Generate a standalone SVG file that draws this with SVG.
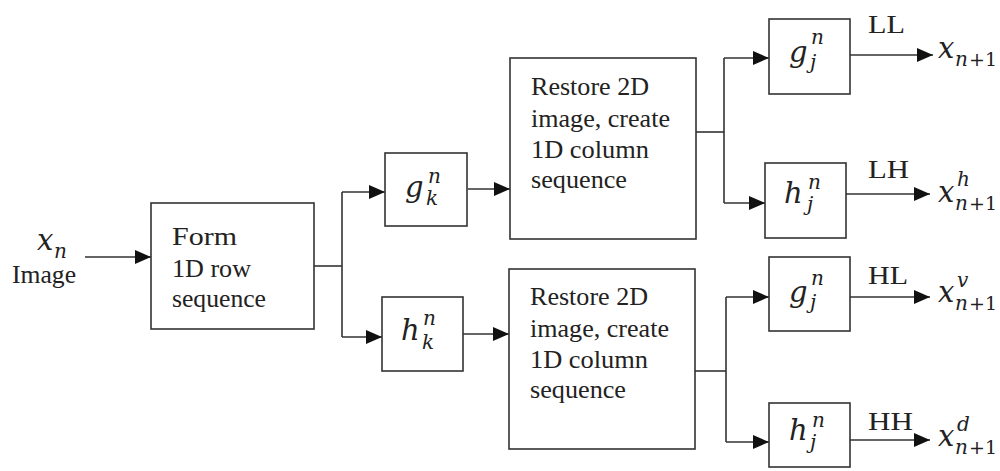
<svg xmlns="http://www.w3.org/2000/svg" width="1000" height="471" viewBox="0 0 1000 471">
<style>
.box{fill:#fff;stroke:#333;stroke-width:1.6}
.ln{fill:none;stroke:#333;stroke-width:1.6}
.t{font-family:"Liberation Serif","Times New Roman",serif;font-size:25px;fill:#222}
.m{font-family:"DejaVu Serif",serif;font-style:italic;font-size:29px;fill:#222}
.s{font-family:"DejaVu Serif",serif;font-style:italic;font-size:20px;fill:#222}
.u{font-family:"DejaVu Serif",serif;font-size:19px;fill:#222}
.lb{font-family:"Liberation Serif","Times New Roman",serif;font-size:25px;fill:#222}
</style>
<defs>
<marker id="ah" markerUnits="userSpaceOnUse" markerWidth="17" markerHeight="15" refX="16" refY="7" orient="auto">
<path d="M0,0 L16,7 L0,14 z" fill="#111"/>
</marker>
</defs>
<rect width="1000" height="471" fill="#fff"/>

<g id="connectors">
<path class="ln" d="M85,257 H151" marker-end="url(#ah)"/>
<path class="ln" d="M314,266 H342"/>
<path class="ln" d="M342,192 V337"/>
<path class="ln" d="M342,192 H385" marker-end="url(#ah)"/>
<path class="ln" d="M342,337 H382" marker-end="url(#ah)"/>
<path class="ln" d="M468,189 H510" marker-end="url(#ah)"/>
<path class="ln" d="M463,334 H509" marker-end="url(#ah)"/>
<path class="ln" d="M696,132 H724"/>
<path class="ln" d="M724,58 V203"/>
<path class="ln" d="M724,58 H769" marker-end="url(#ah)"/>
<path class="ln" d="M724,203 H765" marker-end="url(#ah)"/>
<path class="ln" d="M695,371 H726"/>
<path class="ln" d="M726,297 V442"/>
<path class="ln" d="M726,297 H769" marker-end="url(#ah)"/>
<path class="ln" d="M726,442 H769" marker-end="url(#ah)"/>
<path class="ln" d="M850,55 H933" marker-end="url(#ah)"/>
<path class="ln" d="M846,194 H930" marker-end="url(#ah)"/>
<path class="ln" d="M850,297 H930" marker-end="url(#ah)"/>
<path class="ln" d="M850,440 H930" marker-end="url(#ah)"/>
</g>

<g id="input">
<text class="m" x="37" y="250">x</text>
<text class="s" x="54" y="258">n</text>
<text class="t" x="12" y="283" textLength="64" lengthAdjust="spacingAndGlyphs">Image</text>
</g>

<g id="form">
<rect class="box" x="151" y="203" width="163" height="126"/>
<text class="t" x="172" y="245" textLength="65" lengthAdjust="spacingAndGlyphs">Form</text>
<text class="t" x="172" y="277" textLength="79" lengthAdjust="spacingAndGlyphs">1D row</text>
<text class="t" x="172" y="307" textLength="94" lengthAdjust="spacingAndGlyphs">sequence</text>
</g>

<g id="gk">
<rect class="box" x="385" y="153" width="82" height="73"/>
<text class="m" x="405" y="197">g</text>
<text class="s" x="428" y="183">n</text>
<text class="s" x="426" y="205">k</text>
</g>

<g id="hk">
<rect class="box" x="382" y="297" width="81" height="74"/>
<text class="m" x="401" y="340">h</text>
<text class="s" x="423" y="325">n</text>
<text class="s" x="422" y="349">k</text>
</g>

<g id="restore1">
<rect class="box" x="510" y="58" width="186" height="181"/>
<text class="t" x="531" y="95" textLength="118" lengthAdjust="spacingAndGlyphs">Restore 2D</text>
<text class="t" x="531" y="127" textLength="139" lengthAdjust="spacingAndGlyphs">image, create</text>
<text class="t" x="531" y="158" textLength="118" lengthAdjust="spacingAndGlyphs">1D column</text>
<text class="t" x="531" y="188" textLength="96" lengthAdjust="spacingAndGlyphs">sequence</text>
</g>

<g id="restore2">
<rect class="box" x="509" y="269" width="186" height="180"/>
<text class="t" x="530" y="305" textLength="118" lengthAdjust="spacingAndGlyphs">Restore 2D</text>
<text class="t" x="530" y="337" textLength="139" lengthAdjust="spacingAndGlyphs">image, create</text>
<text class="t" x="530" y="368" textLength="118" lengthAdjust="spacingAndGlyphs">1D column</text>
<text class="t" x="530" y="398" textLength="96" lengthAdjust="spacingAndGlyphs">sequence</text>
</g>

<g id="gj1">
<rect class="box" x="769" y="19" width="81" height="75"/>
<text class="m" x="789" y="62">g</text>
<text class="s" x="811" y="44">n</text>
<text class="s" x="810" y="69">j</text>
</g>

<g id="hj1">
<rect class="box" x="765" y="163" width="81" height="75"/>
<text class="m" x="784" y="203">h</text>
<text class="s" x="808" y="189">n</text>
<text class="s" x="807" y="211">j</text>
</g>

<g id="gj2">
<rect class="box" x="769" y="257" width="81" height="74"/>
<text class="m" x="789" y="302">g</text>
<text class="s" x="811" y="285">n</text>
<text class="s" x="810" y="309">j</text>
</g>

<g id="hj2">
<rect class="box" x="769" y="403" width="81" height="64"/>
<text class="m" x="789" y="440">h</text>
<text class="s" x="812" y="427">n</text>
<text class="s" x="810" y="449">j</text>
</g>

<g id="out-ll">
<text class="lb" x="868" y="33" textLength="37" lengthAdjust="spacingAndGlyphs">LL</text>
<text class="m" x="938" y="58">x</text>
<text class="s" x="955" y="66">n</text><text class="u" x="969" y="66">+1</text>
</g>

<g id="out-lh">
<text class="lb" x="868" y="178" textLength="41" lengthAdjust="spacingAndGlyphs">LH</text>
<text class="m" x="938" y="202">x</text>
<text class="s" x="957" y="186">h</text>
<text class="s" x="955" y="210">n</text><text class="u" x="969" y="210">+1</text>
</g>

<g id="out-hl">
<text class="lb" x="868" y="284" textLength="40" lengthAdjust="spacingAndGlyphs">HL</text>
<text class="m" x="938" y="302">x</text>
<text class="s" x="957" y="287">v</text>
<text class="s" x="955" y="310">n</text><text class="u" x="969" y="310">+1</text>
</g>

<g id="out-hh">
<text class="lb" x="868" y="430" textLength="45" lengthAdjust="spacingAndGlyphs">HH</text>
<text class="m" x="938" y="446">x</text>
<text class="s" x="957" y="431">d</text>
<text class="s" x="955" y="454">n</text><text class="u" x="969" y="454">+1</text>
</g>
</svg>
